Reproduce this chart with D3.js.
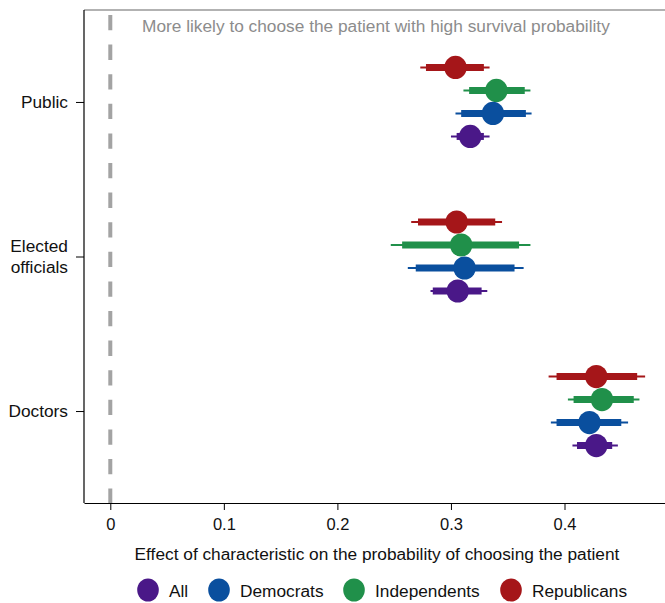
<!DOCTYPE html>
<html>
<head>
<meta charset="utf-8">
<script src="https://cdn.jsdelivr.net/npm/d3@7/dist/d3.min.js"></script>
<style>
  html, body { margin: 0; padding: 0; background: #fff; }
  svg { display: block; font-family: "Liberation Sans", Arial, Helvetica, sans-serif; }
</style>
</head>
<body>
<svg id="chart" width="665" height="603"></svg>
<script>
// Recipient groups (y axis) and respondent subgroups (series)
const groups = ["Public", "Elected officials", "Doctors"];
const seriesNames = ["All", "Democrats", "Independents", "Republicans"];
const seriesColors = ["#4a1888", "#0a4f9e", "#20904a", "#a51619"];

// Point estimates and confidence bounds, one value per group
const estAll = [0.317, 0.306, 0.428];
const lo95All = [0.300, 0.282, 0.407];
const hi95All = [0.334, 0.332, 0.447];
const lo90All = [0.305, 0.284, 0.411];
const hi90All = [0.329, 0.327, 0.442];

const estDem = [0.337, 0.312, 0.422];
const lo95Dem = [0.304, 0.262, 0.388];
const hi95Dem = [0.371, 0.364, 0.456];
const lo90Dem = [0.309, 0.269, 0.393];
const hi90Dem = [0.366, 0.356, 0.450];

const estInd = [0.340, 0.309, 0.433];
const lo95Ind = [0.311, 0.247, 0.403];
const hi95Ind = [0.370, 0.370, 0.466];
const lo90Ind = [0.316, 0.257, 0.408];
const hi90Ind = [0.365, 0.360, 0.461];

const estRep = [0.304, 0.305, 0.428];
const lo95Rep = [0.273, 0.265, 0.386];
const hi95Rep = [0.334, 0.345, 0.471];
const lo90Rep = [0.278, 0.271, 0.393];
const hi90Rep = [0.329, 0.339, 0.464];

const xTicks = [0, 0.1, 0.2, 0.3, 0.4];
const xTitle = "Effect of characteristic on the probability of choosing the patient";
const note = "More likely to choose the patient with high survival probability";

const seriesData = [
  { name: "All", est: estAll, lo95: lo95All, hi95: hi95All, lo90: lo90All, hi90: hi90All },
  { name: "Democrats", est: estDem, lo95: lo95Dem, hi95: hi95Dem, lo90: lo90Dem, hi90: hi90Dem },
  { name: "Independents", est: estInd, lo95: lo95Ind, hi95: hi95Ind, lo90: lo90Ind, hi90: hi90Ind },
  { name: "Republicans", est: estRep, lo95: lo95Rep, hi95: hi95Rep, lo90: lo90Rep, hi90: hi90Rep }
];

const svg = d3.select("#chart");
const plotLeft = 84, plotRight = 665, plotTop = 10, plotBottom = 503;
const fontSize = 17.3;

// x: zero sits a little right of the left frame
const xBase = d3.scaleLinear().domain([0, 0.4]).range([110.3, 564.5]);
const x = d3.scaleLinear().domain([xBase.invert(plotLeft), xBase.invert(plotRight)]).range([plotLeft, plotRight]);

const y = d3.scalePoint().domain(groups).range([plotTop, plotBottom]).padding(0.595);
const sub = d3.scalePoint().domain(["Republicans", "Independents", "Democrats", "All"]).range([-34.5, 34.5]);
const color = d3.scaleOrdinal().domain(seriesNames).range(seriesColors);

// frame: top rule
svg.append("line").attr("x1", plotLeft).attr("x2", plotRight).attr("y1", plotTop).attr("y2", plotTop)
  .attr("stroke", "#666").attr("stroke-width", 1.2);

// reference line at zero
svg.append("line")
  .attr("x1", x(0)).attr("x2", x(0)).attr("y1", 15).attr("y2", plotBottom)
  .attr("stroke", "#a3a3a3").attr("stroke-width", 4)
  .attr("stroke-dasharray", "15.3,14.3");

svg.append("text")
  .attr("x", 142).attr("y", 32)
  .attr("fill", "#8c8c8c").attr("font-size", fontSize)
  .text(note);

// x axis
const xAxis = svg.append("g").attr("transform", `translate(0,${plotBottom})`)
  .call(d3.axisBottom(x).tickValues(xTicks).tickSize(7).tickSizeOuter(0).tickPadding(8)
    .tickFormat(d => d === 0 ? "0" : d3.format(".1f")(d)));
xAxis.select(".domain").attr("stroke", "#000").attr("stroke-width", 1.2);
xAxis.selectAll(".tick line").attr("stroke", "#000");
xAxis.selectAll(".tick text").attr("font-size", 16.5).attr("fill", "#111")
  .attr("font-family", "'Liberation Sans', Arial, sans-serif");

svg.append("text")
  .attr("x", 377).attr("y", 560).attr("text-anchor", "middle")
  .attr("font-size", fontSize).attr("fill", "#111")
  .text(xTitle);

// y axis
const yAxis = svg.append("g").attr("transform", `translate(${plotLeft},0)`)
  .call(d3.axisLeft(y).tickSize(8).tickSizeOuter(0).tickFormat(""));
yAxis.select(".domain").attr("stroke", "#000").attr("stroke-width", 1.2)
  .attr("d", `M0,${plotTop}V${plotBottom}`);
yAxis.selectAll(".tick line").attr("stroke", "#000");

groups.forEach(g => {
  const words = g === "Elected officials" ? ["Elected", "officials"] : [g];
  const t = svg.append("text")
    .attr("text-anchor", "end").attr("font-size", fontSize).attr("fill", "#111");
  const lineH = 21;
  const y0 = y(g) - (words.length - 1) * lineH / 2 + 6;
  words.forEach((w, i) => {
    t.append("tspan").attr("x", 68).attr("y", y0 + i * lineH).text(w);
  });
});

// estimates with 95% (thin) and 90% (thick) intervals
const drawOrder = ["Republicans", "Independents", "Democrats", "All"];
drawOrder.forEach(name => {
  const s = seriesData.find(d => d.name === name);
  const c = color(name);
  const gS = svg.append("g").attr("class", "series");
  groups.forEach((g, i) => {
    const yy = y(g) + sub(name);
    gS.append("line")
      .attr("x1", x(s.lo95[i])).attr("x2", x(s.hi95[i]))
      .attr("y1", yy).attr("y2", yy)
      .attr("stroke", c).attr("stroke-width", 2);
    gS.append("line")
      .attr("x1", x(s.lo90[i])).attr("x2", x(s.hi90[i]))
      .attr("y1", yy).attr("y2", yy)
      .attr("stroke", c).attr("stroke-width", 7);
    gS.append("ellipse")
      .attr("cx", x(s.est[i])).attr("cy", yy)
      .attr("rx", 11.2).attr("ry", 11.6)
      .attr("fill", c);
  });
});

// legend
const legendX = [148, 219, 354, 511];
const legend = svg.append("g");
seriesNames.forEach((name, i) => {
  legend.append("ellipse")
    .attr("cx", legendX[i]).attr("cy", 590).attr("rx", 10.8).attr("ry", 11.5)
    .attr("fill", color(name));
  legend.append("text")
    .attr("x", legendX[i] + 21).attr("y", 596.5)
    .attr("font-size", fontSize).attr("fill", "#111")
    .text(name);
});
</script>
</body>
</html>
